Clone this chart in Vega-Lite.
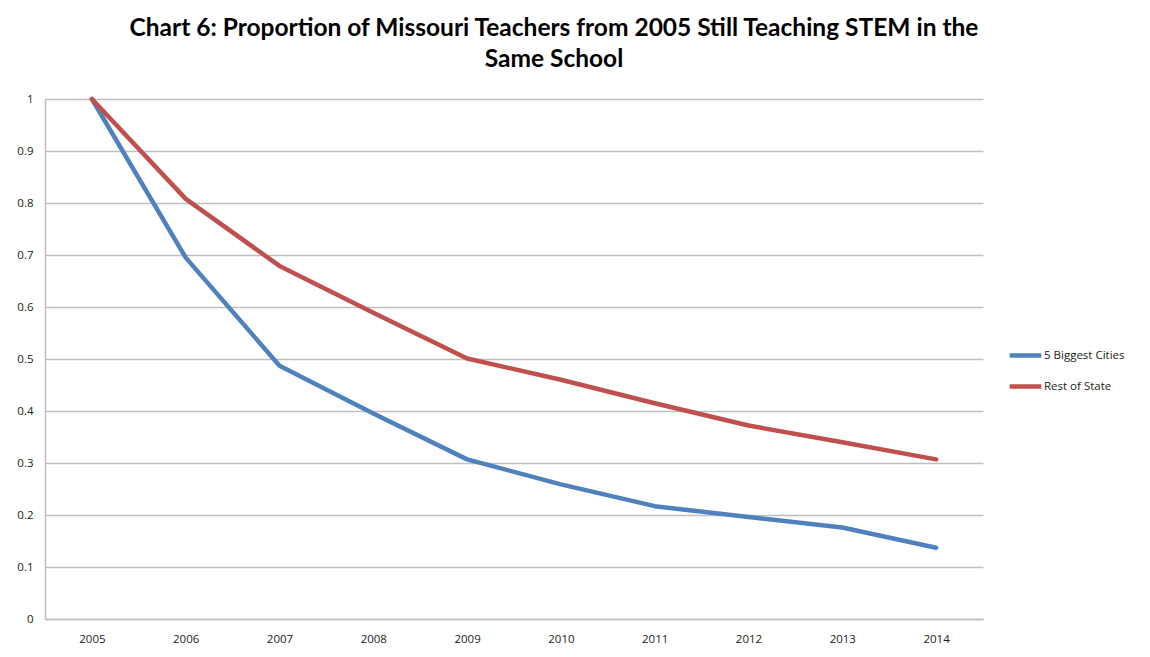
{
  "$schema": "https://vega.github.io/schema/vega-lite/v6.json",
  "width": 938,
  "height": 520,
  "autosize": {"type": "none"},
  "padding": {"left": 45, "top": 99, "right": 167, "bottom": 38},
  "background": "white",
  "title": {
    "text": ["Chart 6: Proportion of Missouri Teachers from 2005 Still Teaching STEM in the", "Same School"],
    "font": "Lato",
    "fontSize": 24.5,
    "fontWeight": "bold",
    "color": "#000000",
    "anchor": "middle",
    "dx": 40,
    "offset": 21,
    "lineHeight": 31
  },
  "data": {
    "values": [
      {"year": "2005", "series": "5 Biggest Cities", "value": 1.0},
      {"year": "2006", "series": "5 Biggest Cities", "value": 0.695},
      {"year": "2007", "series": "5 Biggest Cities", "value": 0.487},
      {"year": "2008", "series": "5 Biggest Cities", "value": 0.395},
      {"year": "2009", "series": "5 Biggest Cities", "value": 0.307},
      {"year": "2010", "series": "5 Biggest Cities", "value": 0.259},
      {"year": "2011", "series": "5 Biggest Cities", "value": 0.217},
      {"year": "2012", "series": "5 Biggest Cities", "value": 0.196},
      {"year": "2013", "series": "5 Biggest Cities", "value": 0.176},
      {"year": "2014", "series": "5 Biggest Cities", "value": 0.137},
      {"year": "2005", "series": "Rest of State", "value": 1.0},
      {"year": "2006", "series": "Rest of State", "value": 0.808},
      {"year": "2007", "series": "Rest of State", "value": 0.679},
      {"year": "2008", "series": "Rest of State", "value": 0.589},
      {"year": "2009", "series": "Rest of State", "value": 0.501},
      {"year": "2010", "series": "Rest of State", "value": 0.46},
      {"year": "2011", "series": "Rest of State", "value": 0.415},
      {"year": "2012", "series": "Rest of State", "value": 0.372},
      {"year": "2013", "series": "Rest of State", "value": 0.34},
      {"year": "2014", "series": "Rest of State", "value": 0.307}
    ]
  },
  "mark": {"type": "line", "strokeWidth": 4.5, "strokeCap": "round", "strokeJoin": "round"},
  "encoding": {
    "x": {
      "field": "year",
      "type": "ordinal",
      "scale": {"type": "point", "padding": 0.5},
      "axis": {
        "title": null,
        "labelAngle": 0,
        "ticks": false,
        "domain": true,
        "domainColor": "#bfbfbf",
        "domainWidth": 1.5,
        "labelFont": "Open Sans",
        "labelFontSize": 11.5,
        "labelColor": "#222222",
        "labelPadding": 14,
        "grid": false
      }
    },
    "y": {
      "field": "value",
      "type": "quantitative",
      "scale": {"domain": [0, 1], "nice": false},
      "axis": {
        "title": null,
        "values": [0, 0.1, 0.2, 0.3, 0.4, 0.5, 0.6, 0.7, 0.8, 0.9, 1],
        "ticks": false,
        "domain": true,
        "domainColor": "#bfbfbf",
        "domainWidth": 1.5,
        "grid": true,
        "gridColor": "#bfbfbf",
        "gridWidth": 1.5,
        "labelFont": "Open Sans",
        "labelFontSize": 11.5,
        "labelColor": "#222222",
        "labelPadding": 12,
        "labelExpr": "datum.value"
      }
    },
    "color": {
      "field": "series",
      "type": "nominal",
      "scale": {"domain": ["5 Biggest Cities", "Rest of State"], "range": ["#4f81bd", "#c0504d"]},
      "legend": {
        "title": null,
        "orient": "none",
        "legendX": 962,
        "legendY": 238,
        "symbolType": "stroke",
        "symbolSize": 1000,
        "symbolStrokeWidth": 4.5,
        "labelFont": "Open Sans",
        "labelFontSize": 11.5,
        "labelColor": "#222222",
        "labelOffset": 0,
        "rowPadding": 3
      }
    }
  },
  "config": {
    "view": {"stroke": null}
  }
}
